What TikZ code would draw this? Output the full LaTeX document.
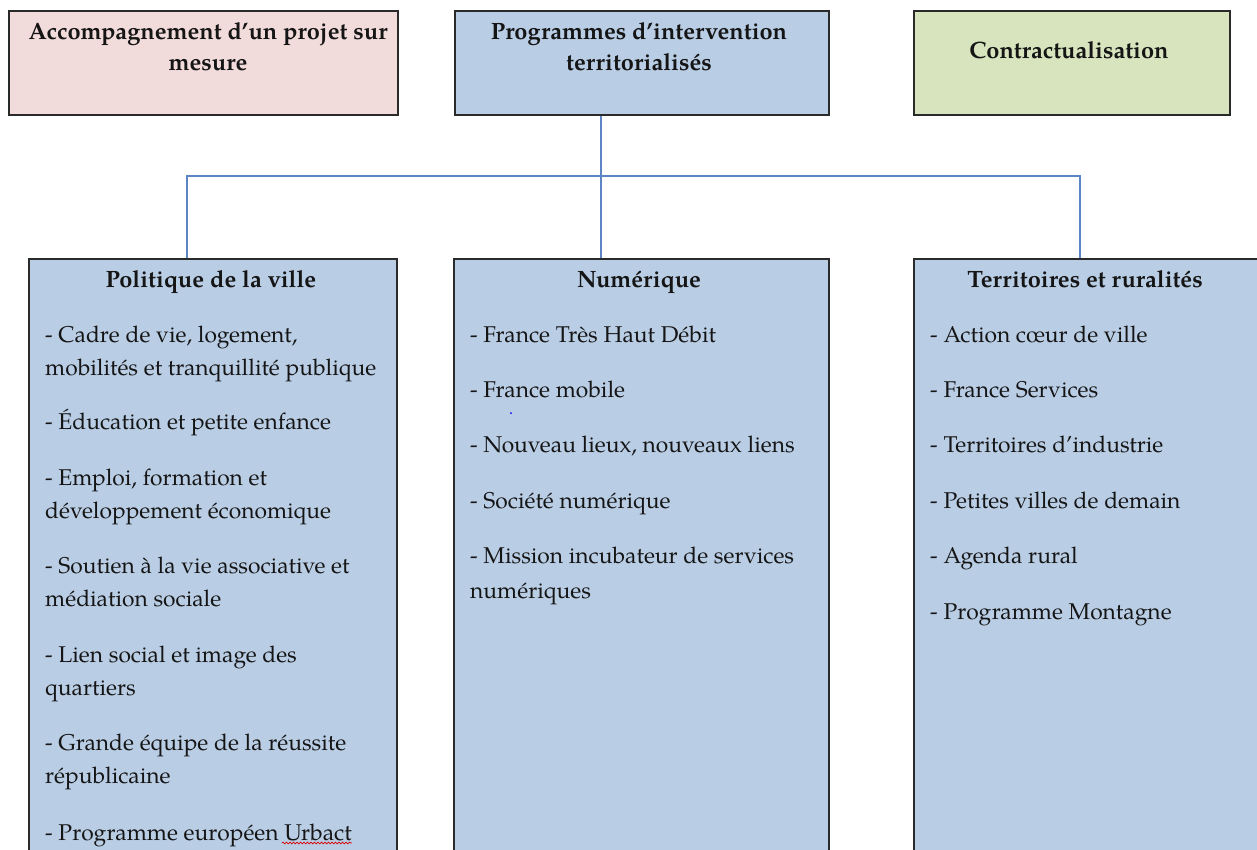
\documentclass[tikz,border=0pt]{standalone}
\usepackage{fontspec}
\setmainfont{TeX Gyre Pagella}
\usetikzlibrary{decorations.pathmorphing}
\definecolor{pinkfill}{HTML}{F2DCDB}
\definecolor{bluefill}{HTML}{B9CDE5}
\definecolor{greenfill}{HTML}{D7E4BD}
\definecolor{connblue}{HTML}{5B85C4}
\definecolor{bordergray}{HTML}{2A2A2A}
\definecolor{txt}{HTML}{151515}
\begin{document}
\begin{tikzpicture}[x=1pt,y=-1pt,
  box/.style={draw=bordergray, line width=1.5pt, rectangle, anchor=north west, inner sep=0pt},
  ttl/.style={font=\fontsize{23.6}{28}\selectfont\bfseries, text=txt, inner sep=0pt, anchor=base},
  itm/.style={font=\fontsize{22.8}{28}\selectfont, text=txt, inner sep=0pt, anchor=base west},
  conn/.style={draw=connblue, line width=1.3pt}]
\useasboundingbox (0,0) rectangle (1257,849);
\clip (0,0) rectangle (1257,849);

% boxes
\node[box, fill=pinkfill, minimum width=389pt, minimum height=104pt] (acc) at (8,10) {};
\node[box, fill=bluefill, minimum width=374pt, minimum height=104pt] (prog) at (454,10) {};
\node[box, fill=greenfill, minimum width=316pt, minimum height=104pt] (contr) at (913,10) {};
\node[box, fill=bluefill, minimum width=368pt, minimum height=610pt] (pol) at (28,258) {};
\node[box, fill=bluefill, minimum width=375pt, minimum height=610pt] (num) at (453,258) {};
\node[box, fill=bluefill, minimum width=360pt, minimum height=610pt] (terr) at (913,258) {};

% connectors
\coordinate (bl) at (187,176);
\coordinate (bm) at (601,176);
\coordinate (br) at (1080,176);
\draw[conn] (bm |- prog.south) -- (bm |- num.north);
\draw[conn] (bl |- pol.north) -- (bl) -- (br) -- (br |- terr.north);

% top titles
\node[ttl] (acc1) at (208,39) {Accompagnement d’un projet sur};
\node[ttl] (acc2) at (208,70) {mesure};
\node[ttl] (prog1) at (639,39) {Programmes d’intervention};
\node[ttl] (prog2) at (639,70) {territorialisés};
\node[ttl] (contr1) at (1069,58) {Contractualisation};

% column titles
\node[ttl] (polt) at (211,287) {Politique de la ville};
\node[ttl] (numt) at (639,287) {Numérique};
\node[ttl] (terrt) at (1085,287) {Territoires et ruralités};

% Politique de la ville
\node[itm] (p1) at (45,342) {- Cadre de vie, logement,};
\node[itm] (p2) at (45,375) {mobilités et tranquillité publique};
\node[itm] (p3) at (45,429) {- Éducation et petite enfance};
\node[itm] (p4) at (45,485) {- Emploi, formation et};
\node[itm] (p5) at (45,518) {développement économique};
\node[itm] (p6) at (45,573) {- Soutien à la vie associative et};
\node[itm] (p7) at (45,606) {médiation sociale};
\node[itm] (p8) at (45,662) {- Lien social et image des};
\node[itm] (p9) at (45,695) {quartiers};
\node[itm] (p10) at (45,750) {- Grande équipe de la réussite};
\node[itm] (p11) at (45,783) {républicaine};
\node[itm] (p12) at (45,840) {- Programme européen Urbact};
\draw[red!85!black, line width=0.7pt, decorate, decoration={snake, amplitude=0.9pt, segment length=3.5pt}]
  ([xshift=-70pt, yshift=-3pt]p12.base east) -- ([yshift=-3pt]p12.base east);

% Numérique
\node[itm] (n1) at (470,342) {- France Très Haut Débit};
\node[itm] (n2) at (470,397) {- France mobile};
\node[itm] (n3) at (470,452) {- Nouveau lieux, nouveaux liens};
\node[itm] (n4) at (470,508) {- Société numérique};
\node[itm] (n5) at (470,563) {- Mission incubateur de services};
\node[itm] (n6) at (470,598) {numériques};
\fill[blue] (511,413) circle (1pt);

% Territoires et ruralités
\node[itm] (t1) at (930,342) {- Action cœur de ville};
\node[itm] (t2) at (930,397) {- France Services};
\node[itm] (t3) at (930,452) {- Territoires d’industrie};
\node[itm] (t4) at (930,508) {- Petites villes de demain};
\node[itm] (t5) at (930,563) {- Agenda rural};
\node[itm] (t6) at (930,619) {- Programme Montagne};
\end{tikzpicture}
\end{document}
